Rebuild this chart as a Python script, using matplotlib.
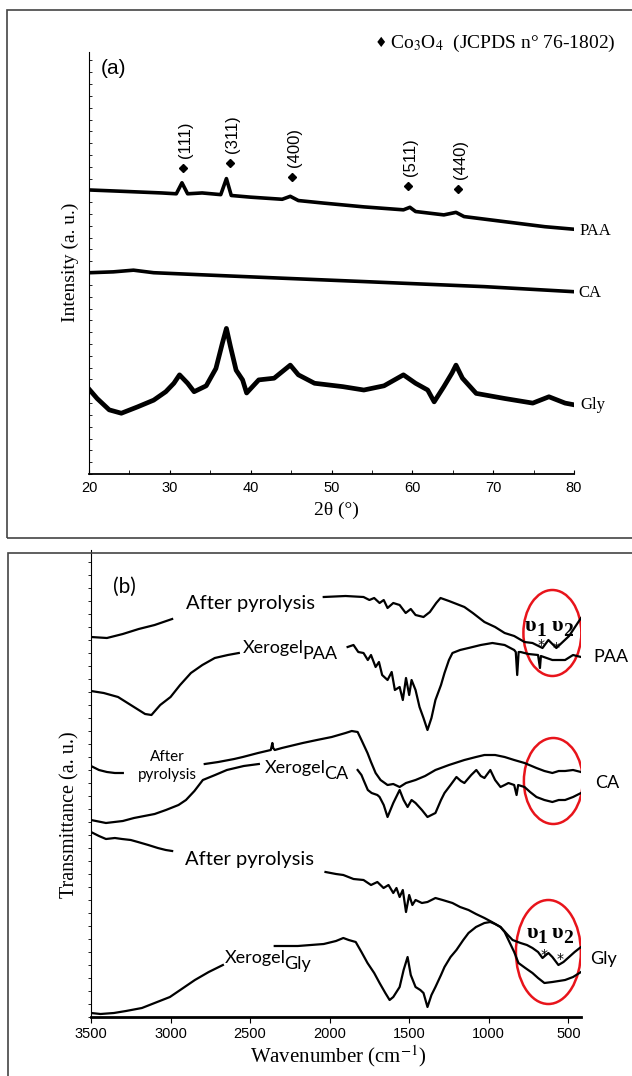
import matplotlib
matplotlib.use("Agg")
import matplotlib.pyplot as plt
from matplotlib.patches import Ellipse, Rectangle
from matplotlib.ticker import MultipleLocator

plt.rcParams["mathtext.fontset"] = "stix"
SANS = "Liberation Sans"
SERIF = "Liberation Serif"
CAL = "Lato"

# ---------------- (a) XRD patterns, intensity in % of axis height ----------------
paa_2t = [20.1, 24, 29, 30.8, 31.5, 32.2, 34, 36.3, 37.0, 37.6, 40, 43.9, 44.9, 45.9, 49, 54, 58.9, 59.7, 60.4, 63.9, 65.4, 66.4, 71.4, 76.4, 80]
paa_int = [67.3, 67.0, 66.6, 66.4, 69.0, 66.4, 66.6, 66.2, 70.0, 66.0, 65.6, 65.1, 65.8, 64.8, 64.2, 63.3, 62.6, 63.2, 62.2, 61.4, 62.0, 61.0, 59.8, 58.6, 58.0]

ca_2t = [20.1, 23, 25.5, 28, 34, 43.9, 54, 58.9, 68.9, 80]
ca_int = [47.7, 47.9, 48.3, 47.7, 47.2, 46.4, 45.6, 45.2, 44.4, 43.2]

gly_2t = [20.1, 21, 22.5, 24, 26, 28, 29.5, 30.5, 31.2, 32.2, 33, 34.5, 35.7, 36.5, 37.0, 37.5, 38.2, 39, 39.5,
          41, 42.9, 44.9, 45.9, 47.9, 51.4, 54, 56.5, 58.9, 60.4, 61.9, 62.7, 63.9, 64.9, 65.4, 66.2, 67.9,
          71.4, 74.9, 76.9, 78.9, 80]
gly_int = [19.9, 17.9, 15.2, 14.4, 15.9, 17.5, 19.5, 21.5, 23.5, 21.5, 19.5, 20.9, 25.0, 31.0, 34.5, 30.2, 24.6, 22.3, 19.2,
           22.3, 22.7, 25.8, 23.5, 21.5, 20.7, 19.9, 20.9, 23.5, 21.5, 19.9, 17.1, 20.7, 23.9, 25.8, 22.7, 19.1,
           17.9, 16.8, 18.3, 16.8, 16.4]

peak_2t = [31.6, 37.4, 45.1, 59.5, 65.7]
peak_int = [72.5, 73.7, 70.4, 68.2, 67.5]
peak_hkl = ["(111)", "(311)", "(400)", "(511)", "(440)"]

# ---------------- (b) FTIR spectra, transmittance (a. u.) ----------------
paa_pyr1_wn = [3500, 3400, 3300, 3200, 3100, 2990]
paa_pyr1_t = [380, 379, 383, 388, 392, 398]
paa_pyr2_wn = [2037, 1900, 1787, 1750, 1720, 1686, 1660, 1636, 1600, 1560, 1522, 1490, 1460, 1410, 1370, 1330,
               1303, 1250, 1153, 1100, 1027, 960, 900, 840, 775, 725, 662, 625, 575, 495, 420]
paa_pyr2_t = [420, 421, 420, 417, 419, 414, 417, 409, 414, 412, 404, 408, 402, 400, 405, 414,
              419, 416, 410, 404, 395, 390, 384, 381, 375, 374, 369, 377, 369, 381, 399]

paa_xer1_wn = [3500, 3420, 3330, 3230, 3160, 3120, 3065, 3000, 2940, 2872, 2800, 2722, 2640, 2571]
paa_xer1_t = [326, 324, 320, 310, 303, 302, 312, 320, 332, 344, 352, 359, 362, 364]
paa_xer2_wn = [1887, 1850, 1820, 1787, 1760, 1740, 1711, 1690, 1670, 1636, 1610, 1590, 1560, 1540, 1520, 1500,
               1485, 1460, 1435, 1410, 1385, 1360, 1335, 1300, 1278, 1250, 1228, 1180, 1127, 1050,
               977, 900, 840, 830, 821, 812, 800, 750, 690, 678, 672, 600, 520, 470, 420]
paa_xer2_t = [370, 372, 365, 364, 357, 362, 350, 355, 342, 337, 345, 327, 330, 317, 339, 322,
              337, 327, 310, 299, 287, 299, 317, 332, 344, 357, 364, 367, 369, 372,
              374, 372, 367, 365, 342, 365, 365, 363, 362, 349, 361, 357, 357, 362, 360]

ca_pyr1_wn = [3500, 3450, 3400, 3350, 3300]
ca_pyr1_t = [251, 247, 245, 244, 244]
ca_pyr2_wn = [2785, 2700, 2600, 2546, 2450, 2370, 2360, 2355, 2345, 2300, 2169, 2080, 1987, 1900, 1861, 1824,
              1800, 1762, 1740, 1711, 1680, 1636, 1600, 1560, 1520, 1460, 1400, 1335, 1250, 1153,
              1080, 1027, 960, 900, 840, 775, 700, 650, 600, 560, 520, 470, 420]
ca_pyr2_t = [253, 255, 258, 260, 264, 267, 274, 269, 267, 269, 274, 277, 280, 284, 286, 285,
             277, 264, 255, 244, 237, 232, 233, 230, 234, 237, 241, 247, 252, 257,
             260, 262, 262, 260, 257, 254, 249, 246, 244, 246, 246, 247, 245]

ca_xer1_wn = [3500, 3406, 3300, 3230, 3100, 3029, 2950, 2903, 2850, 2797, 2720, 2646, 2540, 2445]
ca_xer1_t = [197, 194, 196, 199, 203, 207, 212, 217, 226, 237, 242, 247, 251, 253]
ca_xer2_wn = [1824, 1800, 1787, 1760, 1736, 1700, 1686, 1660, 1636, 1600, 1560, 1535, 1510, 1485, 1460, 1420,
              1385, 1335, 1300, 1278, 1240, 1203, 1175, 1153, 1110, 1078, 1050, 1027, 990, 960,
              926, 900, 876, 840, 825, 815, 775, 740, 700, 650, 600, 560, 520, 470, 420]
ca_xer2_t = [247, 242, 237, 227, 224, 222, 220, 212, 200, 214, 227, 217, 210, 217, 214, 207,
             200, 204, 217, 224, 232, 240, 236, 234, 242, 247, 241, 239, 247, 237,
             230, 232, 234, 232, 222, 232, 230, 225, 220, 217, 215, 217, 217, 220, 224]

gly_pyr1_wn = [3500, 3450, 3406, 3350, 3305, 3250, 3205, 3140, 3080, 3030, 2990]
gly_pyr1_t = [185, 181, 178, 179, 178, 177, 175, 172, 169, 167, 166]
gly_pyr2_wn = [2026, 1960, 1914, 1850, 1787, 1740, 1700, 1661, 1630, 1600, 1580, 1560, 1540, 1520, 1500, 1480,
               1460, 1420, 1385, 1335, 1290, 1228, 1180, 1127, 1080, 1027, 980, 926, 880, 850,
               800, 760, 725, 690, 662, 640, 625, 600, 562, 530, 495, 460, 420]
gly_pyr2_t = [145, 143, 142, 138, 137, 132, 135, 129, 132, 124, 129, 120, 127, 105, 122, 112,
              117, 114, 115, 119, 117, 114, 110, 107, 103, 99, 95, 90, 82, 77,
              74, 72, 69, 65, 59, 62, 64, 60, 52, 55, 60, 65, 70]

gly_xer1_wn = [3500, 3440, 3356, 3280, 3180, 3100, 3004, 2930, 2847, 2760, 2671]
gly_xer1_t = [4, 3, 4, 6, 9, 14, 20, 28, 37, 45, 52]
gly_xer2_wn = [2345, 2200, 2037, 1960, 1914, 1880, 1836, 1800, 1762, 1720, 1686, 1650, 1623, 1600, 1560, 1535,
               1510, 1490, 1460, 1430, 1410, 1385, 1360, 1335, 1300, 1278, 1240, 1203, 1160, 1127,
               1080, 1027, 990, 960, 926, 900, 876, 840, 813, 770, 725, 690, 650, 600, 560, 520, 470, 420]
gly_xer2_t = [71, 71, 73, 76, 79, 77, 75, 65, 54, 44, 34, 24, 17, 20, 30, 47,
              60, 42, 30, 27, 24, 10, 22, 30, 42, 50, 60, 67, 77, 84,
              90, 94, 95, 93, 90, 85, 77, 65, 54, 49, 44, 39, 34, 35, 36, 37, 40, 45]

W, H = 632, 1076


def fx(px):
    return px / W


def fy(py):
    return 1 - py / H


fig = plt.figure(figsize=(W / 100, H / 100), dpi=100)

# panel frames (cut off at the right / bottom edge like the scan)
fig.add_artist(Rectangle((fx(7), fy(538)), 1.0, (538 - 10) / H, transform=fig.transFigure,
                         fill=False, edgecolor="#444444", lw=1.2))
fig.add_artist(Rectangle((fx(8), -0.05), 1.0, fy(553) + 0.05, transform=fig.transFigure,
                         fill=False, edgecolor="#444444", lw=1.2))

# ---------------- panel (a) ----------------
ax1 = fig.add_axes([fx(89), fy(474), (574 - 89) / W, (474 - 52) / H])
ax1.plot(paa_2t, paa_int, color="k", lw=2.6)
ax1.plot(ca_2t, ca_int, color="k", lw=2.6)
ax1.plot(gly_2t, gly_int, color="k", lw=3.4)
ax1.plot(peak_2t, peak_int, ls="none", marker="D", ms=4.5, color="k")
for x, y, lab in zip(peak_2t, peak_int, peak_hkl):
    ax1.text(x + 0.3, y + 2.3, lab, rotation=90, ha="center", va="bottom",
             fontsize=12, family=SANS)
ax1.set_xlim(20, 80)
ax1.set_ylim(0, 100)
for s in ("top", "right"):
    ax1.spines[s].set_visible(False)
ax1.spines["bottom"].set_linewidth(1.3)
ax1.set_xticks(range(20, 81, 10))
ax1.xaxis.set_minor_locator(MultipleLocator(5))
ax1.yaxis.set_major_locator(MultipleLocator(2.8))
ax1.tick_params(axis="x", which="both", direction="in", length=3, labelsize=10.5, pad=5)
ax1.tick_params(axis="y", direction="in", length=2, width=0.6, labelleft=False)
for t in ax1.get_xticklabels():
    t.set_family(SANS)
ax1.text(0.025, 0.96, "(a)", transform=ax1.transAxes, fontsize=15, family=SANS, va="center")

fig.text(fx(381), fy(43), "\u2666", family="DejaVu Sans", fontsize=10, ha="center", va="center")
fig.text(fx(390), fy(43), "Co$_3$O$_4$  (JCPDS n\u00b0 76-1802)", family=SERIF, fontsize=14,
         ha="left", va="center")
fig.text(fx(580), fy(231), "PAA", family=SERIF, fontsize=12, va="center")
fig.text(fx(578), fy(293), "CA", family=SERIF, fontsize=12, va="center")
fig.text(fx(580), fy(405), "Gly", family=SERIF, fontsize=12, va="center")
fig.text(fx(70), fy(262), "Intensity (a. u.)", family=SERIF, fontsize=14, rotation=90,
         ha="center", va="center")
fig.text(fx(336), fy(510), "2\u03b8 (\u00b0)", family=SERIF, fontsize=14, ha="center", va="center")

# ---------------- panel (b) ----------------
ax2 = fig.add_axes([fx(91), fy(1017), (581 - 91) / W, (1017 - 550) / H])
curves = [
    (paa_pyr1_wn, paa_pyr1_t), (paa_pyr2_wn, paa_pyr2_t),
    (paa_xer1_wn, paa_xer1_t), (paa_xer2_wn, paa_xer2_t),
    (ca_pyr1_wn, ca_pyr1_t), (ca_pyr2_wn, ca_pyr2_t),
    (ca_xer1_wn, ca_xer1_t), (ca_xer2_wn, ca_xer2_t),
    (gly_pyr1_wn, gly_pyr1_t), (gly_pyr2_wn, gly_pyr2_t),
    (gly_xer1_wn, gly_xer1_t), (gly_xer2_wn, gly_xer2_t),
]
for wn, tr in curves:
    ax2.plot(wn, tr, color="k", lw=1.6)

# red circles around the Co-O bands
for cx, cy, w, h in [(600, 384, 364, 86), (594, 236, 370, 86), (625, 65, 408, 104)]:
    ax2.add_patch(Ellipse((cx, cy), w, h, fill=False, edgecolor="#e8141b", lw=1.8))

ax2.set_xlim(3500, 420)
ax2.set_ylim(0, 467)
for s in ("top", "right"):
    ax2.spines[s].set_visible(False)
ax2.spines["bottom"].set_linewidth(2.0)
ax2.set_xticks(range(3500, 499, -500))
ax2.yaxis.set_major_locator(MultipleLocator(13))
ax2.tick_params(axis="x", direction="out", length=4, labelsize=10.5, pad=3)
ax2.tick_params(axis="y", direction="out", length=2, width=0.6, labelleft=False)
for t in ax2.get_xticklabels():
    t.set_family(SANS)

ax2.text(3290, 430, "(b)", fontsize=15, family=CAL, ha="center", va="center")
ax2.text(2904, 414, "After pyrolysis", fontsize=14.5, family=CAL, ha="left", va="center")
ax2.text(3023, 251, "After\npyrolysis", fontsize=11, family=CAL, ha="center", va="center",
         linespacing=1.3)
ax2.text(2910, 157, "After pyrolysis", fontsize=14.5, family=CAL, ha="left", va="center")
for x, y, sub in [(2546, 369, "PAA"), (2408, 249, "CA"), (2659, 59, "Gly")]:
    t = ax2.text(x, y, "Xerogel", fontsize=13, family=CAL, ha="left", va="center")
    ax2.annotate(sub, xy=(1.0, 0.5), xycoords=t, xytext=(-1, -4), textcoords="offset points",
                 fontsize=13, family=CAL, ha="left", va="center")

# Co-O vibration bands (upsilon with full-size lowered index)
for x, y, n in [(735, 391, "1"), (565, 391, "2"), (728, 84, "1"), (566, 84, "2")]:
    t = ax2.text(x, y, "\u03c5", fontsize=16, family=SERIF, fontweight="bold",
                 ha="center", va="center")
    ax2.annotate(n, xy=(1.0, 0.5), xycoords=t, xytext=(-0.5, -4), textcoords="offset points",
                 fontsize=14, family=SERIF, fontweight="bold", ha="left", va="center")
for x, y in [(672, 372), (574, 369), (650, 62), (550, 58)]:
    ax2.text(x, y, "*", fontsize=10, ha="center", va="center", family="DejaVu Sans")

fig.text(fx(593), fy(657), "PAA", family=CAL, fontsize=13, va="center")
fig.text(fx(595), fy(783), "CA", family=CAL, fontsize=13, va="center")
fig.text(fx(590), fy(959), "Gly", family=CAL, fontsize=13, va="center")
fig.text(fx(70), fy(815), "Transmittance (a. u.)", family=SERIF, fontsize=14.5, rotation=90,
         ha="center", va="center")
fig.text(fx(338), fy(1056), "Wavenumber (cm$^{-1}$)", family=SERIF, fontsize=15,
         ha="center", va="center")

fig.savefig("out.png", dpi=100)
